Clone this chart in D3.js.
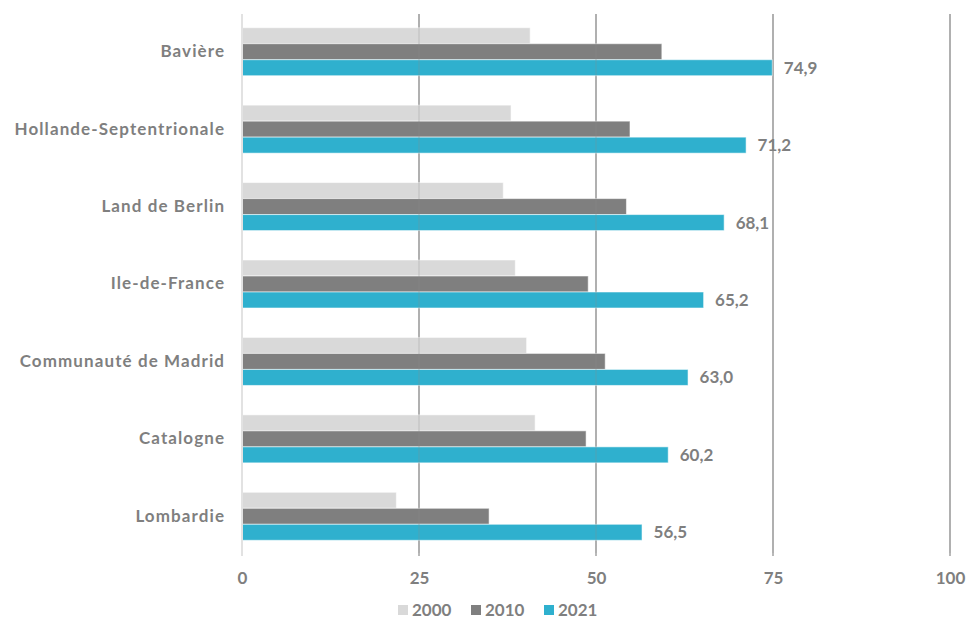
<!DOCTYPE html>
<html>
<head>
<meta charset="utf-8">
<script src="https://cdn.jsdelivr.net/npm/d3@7"></script>
<style>
  html, body { margin: 0; padding: 0; background: #fff; }
  svg { display: block; font-family: "Lato", "Open Sans", sans-serif; font-weight: 700; }
</style>
</head>
<body>
<svg id="chart" width="968" height="621"></svg>
<script>
// Regions, top to bottom
const categories = [
  "Bavière",
  "Hollande-Septentrionale",
  "Land de Berlin",
  "Ile-de-France",
  "Communauté de Madrid",
  "Catalogne",
  "Lombardie"
];
const seriesNames = ["2000", "2010", "2021"];
const values2000 = [40.7, 38.0, 36.9, 38.6, 40.2, 41.4, 21.8];
const values2010 = [59.3, 54.8, 54.3, 48.9, 51.3, 48.6, 34.9];
const values2021 = [74.9, 71.2, 68.1, 65.2, 63.0, 60.2, 56.5];
const xTicks = [0, 25, 50, 75, 100];
const seriesColors = ["#d9d9d9", "#7f7f7f", "#2fb0ce"];

const seriesValues = [values2000, values2010, values2021];
const rows = categories.map((c, i) => ({
  name: c,
  vals: seriesNames.map((s, k) => ({ series: s, k, value: seriesValues[k][i] }))
}));

const svg = d3.select("#chart");
const textColor = "#7f7f7f";
const fontSize = 17;

const x = d3.scaleLinear().domain([0, 100]).range([242, 950]);
const y = d3.scaleBand().domain(categories).range([13, 555])
  .paddingInner(0.38).paddingOuter(0.19);
const ySub = d3.scaleBand().domain(seriesNames).range([0, y.bandwidth()]);
const color = d3.scaleOrdinal().domain(seriesNames).range(seriesColors);

const plotTop = 14, plotBottom = 553;

// Vertical gridlines (drawn behind the bars)
svg.append("g").selectAll("line").data(xTicks.filter(t => t > 0)).join("line")
  .attr("x1", d => x(d)).attr("x2", d => x(d))
  .attr("y1", plotTop).attr("y2", plotBottom + 3)
  .attr("stroke", "#8a8a8a").attr("stroke-width", 1.2);

// Bars
const groups = svg.append("g").selectAll("g").data(rows).join("g")
  .attr("transform", d => `translate(0,${y(d.name)})`);
groups.selectAll("rect").data(d => d.vals).join("rect")
  .attr("x", x(0))
  .attr("y", d => ySub(d.series))
  .attr("width", d => x(d.value) - x(0))
  .attr("height", ySub.bandwidth())
  .attr("fill", d => color(d.series))
  .attr("stroke", "rgba(255,255,255,0.55)")
  .attr("stroke-width", 1);

// Faint gridline overlay showing through the bars
svg.append("g").selectAll("line").data(xTicks.filter(t => t > 0)).join("line")
  .attr("x1", d => x(d)).attr("x2", d => x(d))
  .attr("y1", plotTop).attr("y2", plotBottom)
  .attr("stroke", "#8a8a8a").attr("stroke-width", 1.2).attr("stroke-opacity", 0.3);

// Zero baseline
svg.append("line")
  .attr("x1", x(0)).attr("x2", x(0))
  .attr("y1", plotTop).attr("y2", plotBottom + 3)
  .attr("stroke", "#e2e2e2").attr("stroke-width", 2);

// Value labels for the latest year
groups.append("text")
  .attr("x", d => x(d.vals[2].value) + 11.5)
  .attr("y", ySub("2021") + ySub.bandwidth() / 2)
  .attr("dy", "0.35em")
  .attr("fill", textColor)
  .attr("font-size", fontSize)
  .text(d => d3.format(".1f")(d.vals[2].value).replace(".", ","));

// Category axis labels
const yAxis = d3.axisLeft(y).tickSize(0).tickPadding(0);
const yG = svg.append("g").attr("transform", "translate(224,0)").call(yAxis);
yG.select(".domain").remove();
yG.selectAll("text")
  .attr("fill", textColor).attr("font-size", fontSize)
  .attr("letter-spacing", "1.1px")
  .attr("dx", "1.1px")
  .attr("font-family", "Lato, 'Open Sans', sans-serif").attr("font-weight", 700);

// Value axis tick labels
const xAxis = d3.axisBottom(x).tickValues(xTicks).tickSize(0).tickPadding(0)
  .tickFormat(d3.format("d"));
const xG = svg.append("g").attr("transform", "translate(0,572)").call(xAxis);
xG.select(".domain").remove();
xG.selectAll("text")
  .attr("fill", textColor).attr("font-size", fontSize)
  .attr("font-family", "Lato, 'Open Sans', sans-serif").attr("font-weight", 700);

// Legend
const legendX = [398, 471, 544];
const legend = svg.append("g").selectAll("g").data(seriesNames).join("g")
  .attr("transform", (d, i) => `translate(${legendX[i]},610)`);
legend.append("rect")
  .attr("x", 0).attr("y", -5).attr("width", 10).attr("height", 10)
  .attr("fill", d => color(d));
legend.append("text")
  .attr("x", 14).attr("y", 0).attr("dy", "0.36em")
  .attr("fill", textColor).attr("font-size", fontSize)
  .text(d => d);
</script>
</body>
</html>
